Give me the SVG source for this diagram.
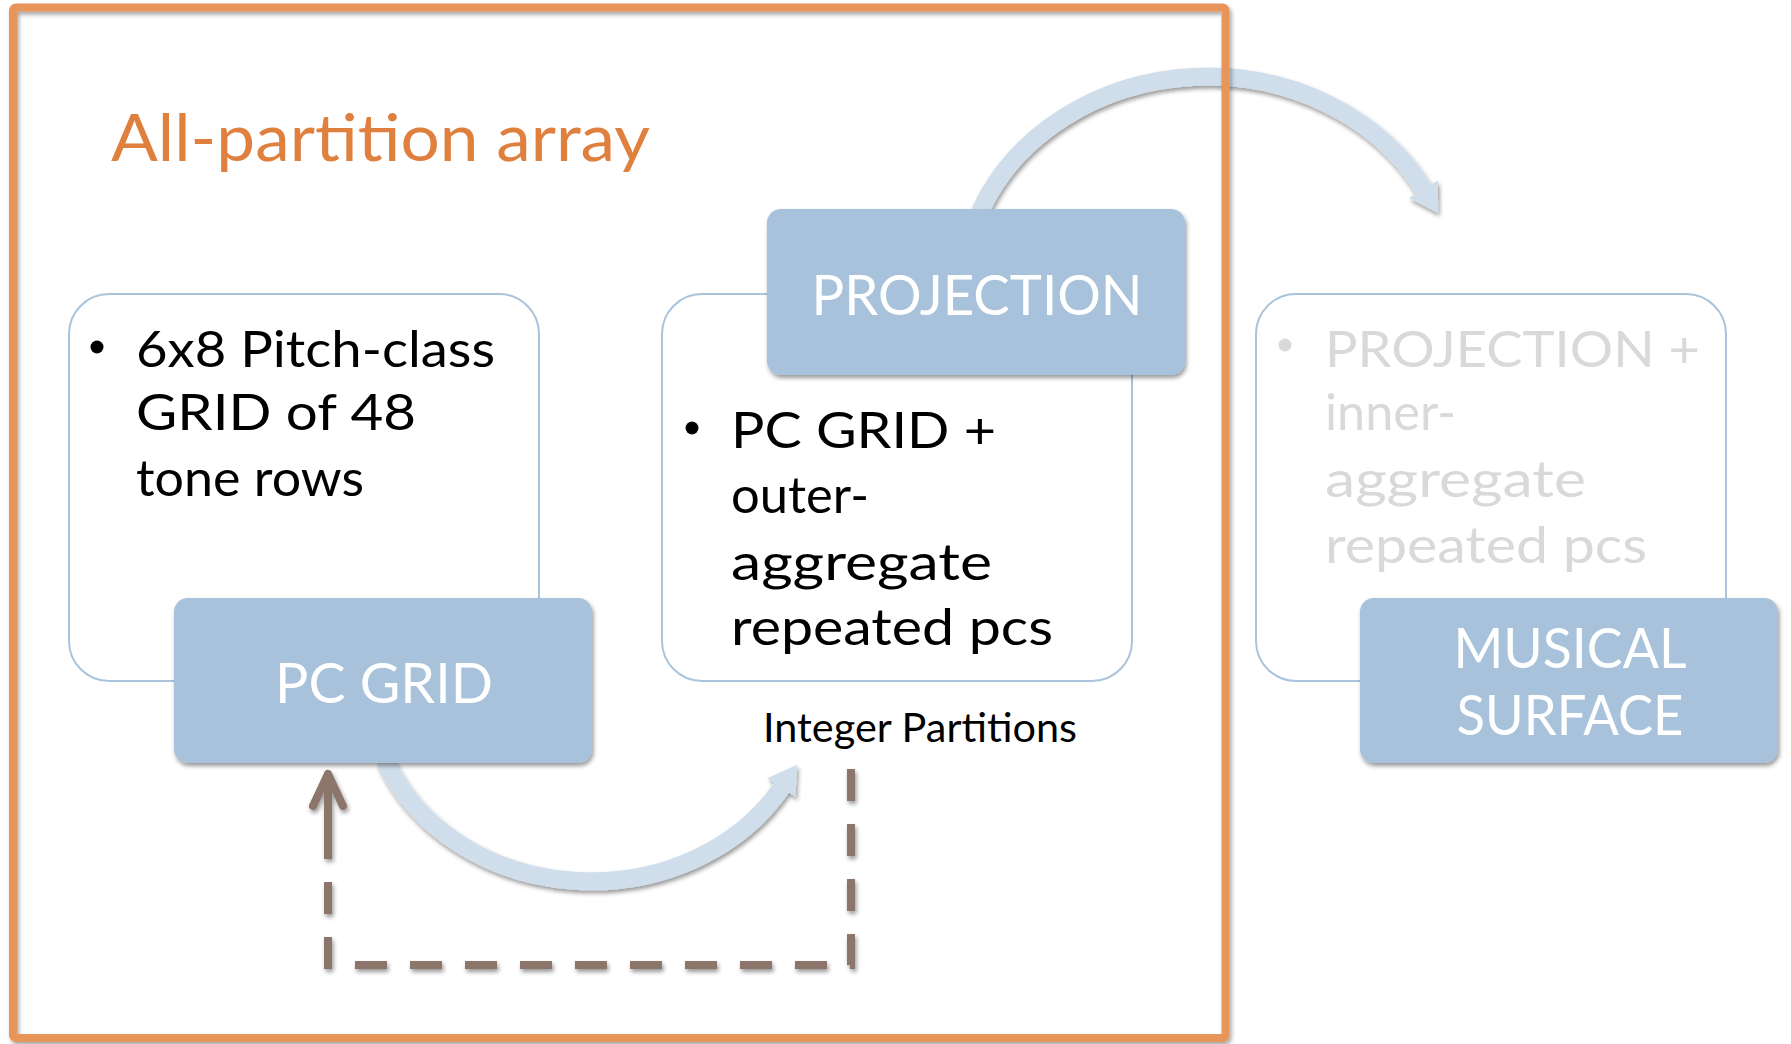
<svg xmlns="http://www.w3.org/2000/svg" width="1791" height="1044" viewBox="0 0 1791 1044">
<defs>
  <filter id="sh" x="-10%" y="-10%" width="120%" height="130%">
    <feDropShadow dx="1.5" dy="3" stdDeviation="2" flood-color="#000" flood-opacity="0.4"/>
  </filter>
  <filter id="shf" x="-2%" y="-2%" width="104%" height="104%">
    <feDropShadow dx="2" dy="3" stdDeviation="2" flood-color="#000" flood-opacity="0.35"/>
  </filter>
  <marker id="blueHead" markerUnits="userSpaceOnUse" viewBox="0 0 28 34" markerWidth="28" markerHeight="34" refX="1" refY="17" orient="auto">
    <path d="M0,0 L28,17 L0,34 z" fill="#CFDEEA"/>
  </marker>
  <marker id="brownHead" markerUnits="userSpaceOnUse" viewBox="-82 -22 90 44" markerWidth="90" markerHeight="44" refX="0" refY="0" orient="auto" overflow="visible">
    <path d="M-76,0 L0,0 M-32,-15 L0,0 L-32,15" fill="none" stroke="#8C746A" stroke-width="8" stroke-linecap="round" stroke-linejoin="round" stroke-dasharray="none"/>
  </marker>
  <style>
    .outline { fill: #FFFFFF; stroke: #A9C4DC; stroke-width: 2; }
    .label-box { fill: #A7C2DA; filter: url(#sh); }
    .body { font-family: Lato, "Open Sans", sans-serif; font-size: 50px; fill: #000000; }
    .gray { fill: #D9D9D9; }
    .label { font-family: Lato, "Open Sans", sans-serif; font-size: 56px; fill: #FFFFFF; text-anchor: middle; }
    .title { font-family: Lato, "Open Sans", sans-serif; font-size: 66px; fill: #E0803F; }
    .small { font-family: Lato, "Open Sans", sans-serif; font-size: 40px; fill: #000000; }
    .arc { fill: none; stroke: #CFDEEA; stroke-width: 18; filter: url(#sh); marker-end: url(#blueHead); }
    .dash { fill: none; stroke: #8C746A; stroke-width: 8; stroke-dasharray: 32 23; filter: url(#sh); marker-end: url(#brownHead); }
  </style>
</defs>

<g id="connectors">
  <path id="arc-projection-surface" class="arc" d="M 979 214 A 245 214 0 0 1 1424 190"/>
  <path id="arc-pcgrid-partitions" class="arc" d="M 385 760 A 221 190 0 0 0 782 787"/>
  <path id="dashed-partitions-pcgrid" class="dash" d="M 851 769 L 851 965 L 328 965 L 328 774"/>
</g>

<g id="frame">
  <rect x="13" y="7.5" width="1212.5" height="1030.5" rx="3" fill="none" stroke="#E8955A" stroke-width="8" filter="url(#shf)"/>
</g>

<g id="title">
  <text class="title" x="111" y="161" textLength="539" lengthAdjust="spacingAndGlyphs">All-partition array</text>
</g>

<g id="node-pc-grid">
  <rect class="outline" x="69" y="294" width="470" height="387" rx="40"/>
  <circle cx="97" cy="347" r="6.5" fill="#000"/>
  <text class="body" x="136" y="367" textLength="359" lengthAdjust="spacingAndGlyphs">6x8 Pitch-class</text>
  <text class="body" x="136" y="430" textLength="280" lengthAdjust="spacingAndGlyphs">GRID of 48</text>
  <text class="body" x="136" y="496" textLength="228" lengthAdjust="spacingAndGlyphs">tone rows</text>
  <rect class="label-box" x="174" y="598" width="418" height="165" rx="14"/>
  <text class="label" x="384" y="703" textLength="218" lengthAdjust="spacingAndGlyphs">PC GRID</text>
</g>

<g id="node-projection">
  <rect class="outline" x="662" y="294" width="470" height="387" rx="40"/>
  <circle cx="692" cy="428" r="6.5" fill="#000"/>
  <text class="body" x="731" y="448" textLength="265" lengthAdjust="spacingAndGlyphs">PC GRID +</text>
  <text class="body" x="731" y="513" textLength="138" lengthAdjust="spacingAndGlyphs">outer-</text>
  <text class="body" x="731" y="580" textLength="261" lengthAdjust="spacingAndGlyphs">aggregate</text>
  <text class="body" x="731" y="645" textLength="322" lengthAdjust="spacingAndGlyphs">repeated pcs</text>
  <rect class="label-box" x="767" y="209" width="418" height="166" rx="14"/>
  <text class="label" x="977" y="315" textLength="331" lengthAdjust="spacingAndGlyphs">PROJECTION</text>
</g>

<g id="node-integer-partitions">
  <text class="small" x="763" y="742" textLength="314" lengthAdjust="spacingAndGlyphs">Integer Partitions</text>
</g>

<g id="node-musical-surface">
  <rect class="outline" x="1256" y="294" width="470" height="387" rx="40"/>
  <circle cx="1285" cy="345" r="6.5" fill="#D9D9D9"/>
  <text class="body gray" x="1325" y="367" textLength="375" lengthAdjust="spacingAndGlyphs">PROJECTION +</text>
  <text class="body gray" x="1325" y="430" textLength="131" lengthAdjust="spacingAndGlyphs">inner-</text>
  <text class="body gray" x="1325" y="497" textLength="261" lengthAdjust="spacingAndGlyphs">aggregate</text>
  <text class="body gray" x="1325" y="563" textLength="322" lengthAdjust="spacingAndGlyphs">repeated pcs</text>
  <rect class="label-box" x="1360" y="598" width="418" height="165" rx="14"/>
  <text class="label" x="1570" y="668" textLength="233" lengthAdjust="spacingAndGlyphs">MUSICAL</text>
  <text class="label" x="1570" y="735" textLength="227" lengthAdjust="spacingAndGlyphs">SURFACE</text>
</g>
</svg>
